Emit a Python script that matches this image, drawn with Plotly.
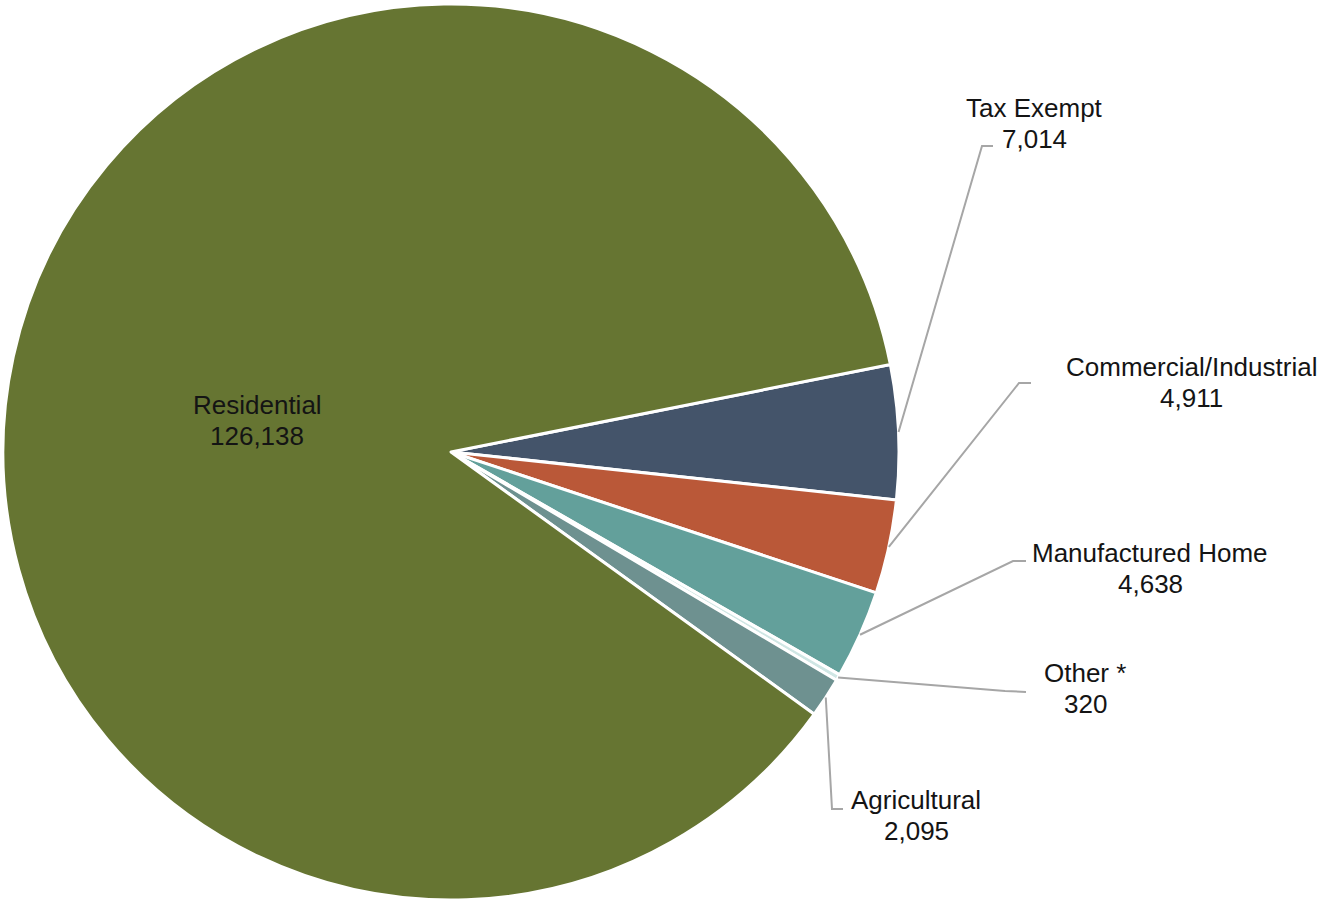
import math
import plotly.graph_objects as go

# ---- data ----
categories = ["Tax Exempt", "Commercial/Industrial", "Manufactured Home", "Other *", "Agricultural", "Residential"]
values = [7014, 4911, 4638, 320, 2095, 126138]
colors = ["#44546A", "#BA5838", "#63A09B", "#CFE6E4", "#6E9190", "#667532"]

# ---- layout constants (pixels) ----
W, H = 1321, 900
CX, CY, R = 451, 452, 448
ROTATION = 78.74
FONT = "Liberation Sans, Arial, sans-serif"
FS = 26
LINE_GAP = 31
LEADER = "#A6A6A6"

# label centre x, first-line centre y, leader elbow, leader end
label_pos = {
    "Tax Exempt": (1034, 108, (982, 146), (993, 146)),
    "Commercial/Industrial": (1191, 367, (1019, 383), (1031, 383)),
    "Manufactured Home": (1150, 553, (1013, 561), (1026, 561)),
    "Other *": (1085, 673, (1005, 691), (1026, 692)),
    "Agricultural": (916, 800, (832, 809), (843, 809)),
    "Residential": (257, 405, None, None),
}

def px(x):
    return x / W

def py(y):
    return 1 - y / H

fig = go.Figure(go.Pie(
    labels=categories,
    values=values,
    sort=False,
    direction="clockwise",
    rotation=ROTATION,
    marker=dict(colors=colors, line=dict(color="white", width=3)),
    textinfo="none",
    hoverinfo="label+value",
    domain=dict(x=[(CX - R) / W, (CX + R) / W], y=[1 - (CY + R) / H, 1 - (CY - R) / H]),
))

total = sum(values)
annotations = []
shapes = []
cum = 0
for name, v in zip(categories, values):
    mid = ROTATION + 360 * (cum + v / 2) / total
    cum += v
    lx, ly, elbow, end = label_pos[name]
    annotations.append(dict(x=px(lx), y=py(ly), xref="paper", yref="paper", text=name,
                            showarrow=False, xanchor="center", yanchor="middle",
                            font=dict(family=FONT, size=FS, color="#141414")))
    annotations.append(dict(x=px(lx), y=py(ly + LINE_GAP), xref="paper", yref="paper", text=f"{v:,}",
                            showarrow=False, xanchor="center", yanchor="middle",
                            font=dict(family=FONT, size=FS, color="#141414")))
    if elbow is not None:
        a = math.radians(mid)
        sx = CX + R * math.sin(a)
        sy = CY - R * math.cos(a)
        path = f"M {px(sx)} {py(sy)} L {px(elbow[0])} {py(elbow[1])} L {px(end[0])} {py(end[1])}"
        shapes.append(dict(type="path", xref="paper", yref="paper", path=path,
                           line=dict(color=LEADER, width=2)))

fig.update_layout(
    width=W, height=H,
    margin=dict(l=0, r=0, t=0, b=0),
    paper_bgcolor="white", plot_bgcolor="white",
    showlegend=False,
    annotations=annotations,
    shapes=shapes,
)

fig.write_html("out.html")
